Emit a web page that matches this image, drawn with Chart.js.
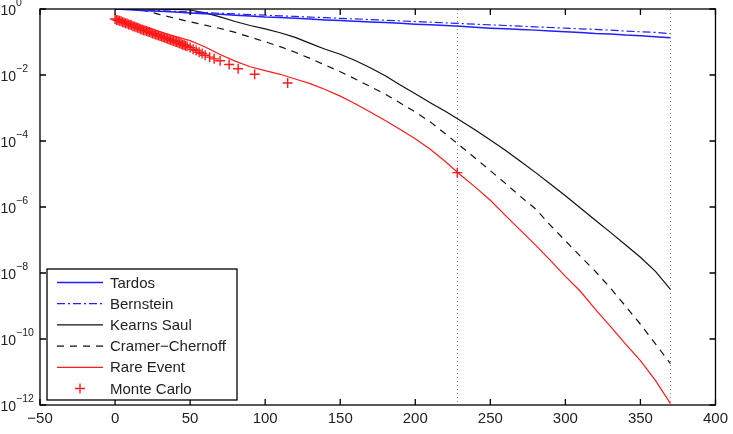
<!DOCTYPE html>
<html>
<head>
<meta charset="utf-8">
<script src="https://cdn.jsdelivr.net/npm/chart.js@4"></script>
<style>
  html, body { margin: 0; padding: 0; background: #fff; }
  #wrap { width: 733px; height: 434px; }
</style>
</head>
<body>
<div id="wrap"><canvas id="chart" width="733" height="434"></canvas></div>
<script>
// values
const xGrid = [0, 10, 20, 30, 40, 50, 60, 70, 80, 90, 100, 110, 120, 130, 140, 150, 160, 170, 180,
  190, 200, 210, 220, 230, 240, 250, 260, 270, 280, 290, 300, 310, 320, 330, 340, 350, 360, 370];

const tardos = [1.0, 0.955, 0.891, 0.851, 0.813, 0.759, 0.724, 0.692, 0.646, 0.617, 0.575, 0.550, 0.525,
  0.501, 0.468, 0.447, 0.427, 0.407, 0.389, 0.372, 0.347, 0.331, 0.316, 0.302, 0.282, 0.263, 0.251,
  0.240, 0.229, 0.214, 0.204, 0.195, 0.182, 0.174, 0.162, 0.155, 0.145, 0.135];

const bernstein = [1.0, 0.97, 0.93, 0.89, 0.85, 0.81, 0.78, 0.74, 0.71, 0.68, 0.65, 0.62, 0.595,
  0.57, 0.545, 0.52, 0.50, 0.478, 0.457, 0.437, 0.417, 0.398, 0.38, 0.363, 0.347, 0.331, 0.316,
  0.302, 0.288, 0.275, 0.263, 0.251, 0.240, 0.229, 0.214, 0.204, 0.195, 0.178];

const kearnsSaul = [1.0, 1.0, 1.0, 0.99, 0.977, 0.933, 0.759, 0.575, 0.417, 0.316, 0.251, 0.191, 0.138,
  0.0912, 0.0603, 0.0427, 0.0275, 0.0166, 0.00955, 0.00501, 0.00269, 0.00145, 7.94e-4, 4.17e-4,
  2.14e-4, 1.07e-4, 5.25e-5, 2.45e-5, 1.12e-5, 5.0e-6, 2.19e-6, 9.3e-7, 3.98e-7, 1.7e-7, 7.2e-8,
  3.0e-8, 1.12e-8, 3.2e-9];

const cramerChernoff = [1.0, 1.0, 0.891, 0.676, 0.525, 0.407, 0.324, 0.257, 0.195, 0.141, 0.102,
  0.0724, 0.049, 0.0316, 0.02, 0.0126, 0.00759, 0.00447, 0.00263, 0.00141, 7.59e-4, 3.8e-4, 1.66e-4,
  7.1e-5, 3.0e-5, 1.26e-5, 5.2e-6, 2.1e-6, 8.9e-7, 2.8e-7, 9.5e-8, 3.2e-8, 1.12e-8, 3.5e-9, 1.0e-9,
  2.8e-10, 7.1e-11, 1.8e-11];

const rareEvent = [0.562, 0.398, 0.282, 0.204, 0.148, 0.11, 0.0708, 0.0417, 0.0263, 0.0178, 0.0135,
  0.0105, 0.00759, 0.0055, 0.00363, 0.00229, 0.00135, 7.59e-4, 4.17e-4, 2.24e-4, 1.17e-4, 5.6e-5,
  2.4e-5, 9.5e-6, 4.0e-6, 1.6e-6, 5.6e-7, 2.0e-7, 7.1e-8, 2.4e-8, 7.9e-9, 2.8e-9, 7.9e-10, 2.4e-10,
  7.1e-11, 2.2e-11, 5.6e-12, 1.1e-12];

const monteCarloX = [0, 1, 2, 3, 4, 5, 6, 7, 8, 9, 10, 11, 12, 13, 14, 15, 16, 17, 18, 19, 20, 21,
  22, 23, 24, 25, 26, 27, 28, 29, 30, 31, 32, 33, 34, 35, 36, 37, 38, 39, 40, 41, 42, 43, 44, 45,
  46, 47, 48, 50, 52, 54, 56, 58, 60, 63, 66, 70, 76, 82, 93, 115, 228];
const monteCarloY = [0.50, 0.468, 0.457, 0.437, 0.427, 0.398, 0.389, 0.372, 0.363, 0.339, 0.331,
  0.324, 0.302, 0.295, 0.282, 0.269, 0.263, 0.245, 0.240, 0.229, 0.224, 0.214, 0.204, 0.200, 0.191,
  0.182, 0.178, 0.170, 0.162, 0.158, 0.151, 0.145, 0.141, 0.135, 0.129, 0.126, 0.120, 0.115, 0.112,
  0.107, 0.102, 0.100, 0.0955, 0.0912, 0.0871, 0.0832, 0.0813, 0.0776, 0.0741, 0.0676, 0.0603,
  0.055, 0.049, 0.0447, 0.0398, 0.0347, 0.0309, 0.0269, 0.0209, 0.0155, 0.0105, 0.00575, 1.1e-5];

const xTicks = [-50, 0, 50, 100, 150, 200, 250, 300, 350, 400];
const yTicks = [1, 1e-2, 1e-4, 1e-6, 1e-8, 1e-10, 1e-12];
const markerLines = [228, 370];

const pairs = (xs, ys) => xs.map((x, i) => ({ x: x, y: ys[i] }));
const FONT = '"Liberation Sans", Arial, sans-serif';

// axes box, inward ticks, y labels with superscripts, dotted markers
const matlabAxes = {
  id: 'matlabAxes',
  beforeDatasetsDraw(chart) {
    const { ctx, chartArea: a, scales: { x } } = chart;
    ctx.save();
    ctx.strokeStyle = '#8a8a8a';
    ctx.lineWidth = 1;
    ctx.setLineDash([1, 3]);
    markerLines.forEach(v => {
      const px = Math.round(x.getPixelForValue(v)) + 0.5;
      ctx.beginPath();
      ctx.moveTo(px, a.top);
      ctx.lineTo(px, a.bottom);
      ctx.stroke();
    });
    ctx.restore();
  },
  afterDraw(chart) {
    const { ctx, chartArea: a, scales: { x, y } } = chart;
    ctx.save();
    ctx.strokeStyle = '#000';
    ctx.lineWidth = 1.3;
    ctx.strokeRect(a.left, a.top, a.right - a.left, a.bottom - a.top);
    ctx.beginPath();
    const tl = 6;
    xTicks.forEach(v => {
      const px = x.getPixelForValue(v);
      ctx.moveTo(px, a.bottom); ctx.lineTo(px, a.bottom - tl);
      ctx.moveTo(px, a.top); ctx.lineTo(px, a.top + tl);
    });
    yTicks.forEach(v => {
      const py = y.getPixelForValue(v);
      ctx.moveTo(a.left, py); ctx.lineTo(a.left + tl, py);
      ctx.moveTo(a.right, py); ctx.lineTo(a.right - tl, py);
    });
    ctx.stroke();

    ctx.fillStyle = '#222';
    yTicks.forEach(v => {
      const py = y.getPixelForValue(v);
      const e = Math.round(Math.log10(v));
      ctx.font = '14px ' + FONT;
      ctx.textAlign = 'right';
      ctx.textBaseline = 'middle';
      ctx.fillText('10', 16, py + 2);
      ctx.font = '10.5px ' + FONT;
      ctx.textAlign = 'left';
      ctx.fillText(String(e).replace('-', '\u2212'), 16, py - 6);
    });
    ctx.restore();
  }
};

// legend box in the lower left of the axes
const boxLegend = {
  id: 'boxLegend',
  afterDraw(chart) {
    const { ctx } = chart;
    const left = 47, top = 269, w = 190, h = 131, rowH = 21.2;
    ctx.save();
    ctx.fillStyle = '#fff';
    ctx.fillRect(left, top, w, h);
    ctx.strokeStyle = '#000';
    ctx.lineWidth = 1.3;
    ctx.strokeRect(left, top, w, h);
    ctx.font = '15px ' + FONT;
    ctx.textBaseline = 'middle';
    ctx.textAlign = 'left';
    chart.data.datasets.forEach((ds, i) => {
      const cy = top + 13.5 + i * rowH;
      ctx.strokeStyle = ds.borderColor;
      if (ds.showLine === false) {
        ctx.lineWidth = 1.3;
        ctx.beginPath();
        ctx.moveTo(80 - 5, cy); ctx.lineTo(80 + 5, cy);
        ctx.moveTo(80, cy - 5); ctx.lineTo(80, cy + 5);
        ctx.stroke();
      } else {
        ctx.lineWidth = ds.borderWidth;
        ctx.setLineDash(ds.borderDash || []);
        ctx.beginPath();
        ctx.moveTo(57, cy);
        ctx.lineTo(103, cy);
        ctx.stroke();
      }
      ctx.setLineDash([]);
      ctx.fillStyle = '#222';
      ctx.fillText(ds.label, 110, cy + 1);
    });
    ctx.restore();
  }
};

new Chart(document.getElementById('chart'), {
  type: 'line',
  data: {
    datasets: [
      { label: 'Tardos', data: pairs(xGrid, tardos), borderColor: '#2020ff', borderWidth: 1.5 },
      { label: 'Bernstein', data: pairs(xGrid, bernstein), borderColor: '#2020ff', borderWidth: 1.2,
        borderDash: [8, 3, 2, 3] },
      { label: 'Kearns Saul', data: pairs(xGrid, kearnsSaul), borderColor: '#111', borderWidth: 1.2 },
      { label: 'Cramer\u2212Chernoff', data: pairs(xGrid, cramerChernoff), borderColor: '#111',
        borderWidth: 1.2, borderDash: [7, 6] },
      { label: 'Rare Event', data: pairs(xGrid, rareEvent), borderColor: '#ff1a1a', borderWidth: 1.2 },
      { label: 'Monte Carlo', data: pairs(monteCarloX, monteCarloY), borderColor: '#ff1a1a',
        showLine: false, pointStyle: 'cross', pointRadius: 5, pointBorderWidth: 1.4 }
    ]
  },
  options: {
    responsive: false,
    animation: false,
    layout: { padding: { top: 9, right: 16, left: 0, bottom: 0 } },
    elements: { line: { tension: 0, fill: false }, point: { radius: 0 } },
    plugins: { legend: { display: false }, tooltip: { enabled: false } },
    scales: {
      x: {
        type: 'linear', min: -50, max: 400,
        afterBuildTicks: s => { s.ticks = xTicks.map(v => ({ value: v })); },
        afterFit: s => { s.height = 29; },
        grid: { display: false, drawTicks: false },
        border: { display: false },
        ticks: {
          padding: 5, color: '#222', maxRotation: 0,
          font: { size: 15, family: FONT },
          callback: v => String(v).replace('-', '\u2212')
        }
      },
      y: {
        type: 'logarithmic', min: 1e-12, max: 1,
        afterBuildTicks: s => { s.ticks = yTicks.map(v => ({ value: v })); },
        afterFit: s => { s.width = 40; },
        grid: { display: false, drawTicks: false },
        border: { display: false },
        ticks: { display: false }
      }
    }
  },
  plugins: [matlabAxes, boxLegend]
});
</script>
</body>
</html>
